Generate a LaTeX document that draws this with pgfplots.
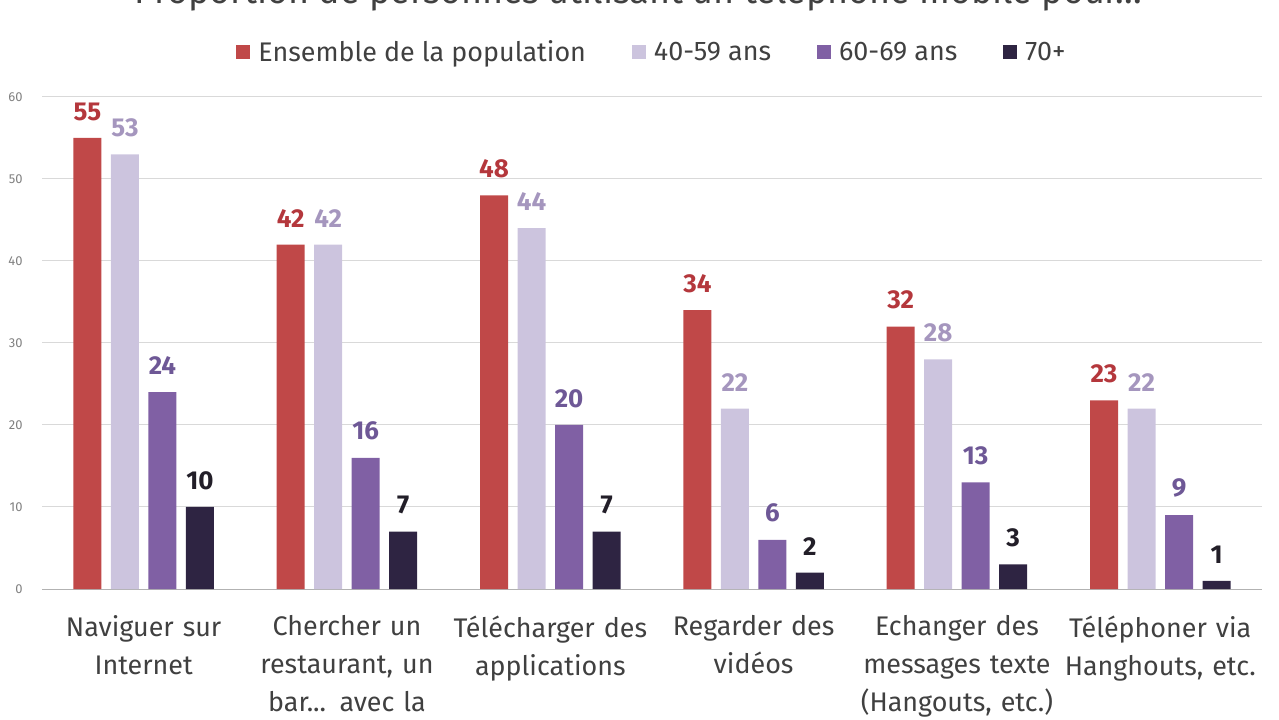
\documentclass[border=0pt]{standalone}
\usepackage{pgfplots}
\pgfplotsset{compat=1.18}
\usepackage{fontspec}
\setmainfont{Fira Sans}
\newcommand\tdots{...}
\definecolor{cA}{RGB}{192,72,72}
\definecolor{cAt}{RGB}{180,55,60}
\definecolor{cB}{RGB}{204,196,222}
\definecolor{cBt}{RGB}{165,150,190}
\definecolor{cC}{RGB}{128,96,164}
\definecolor{cCt}{RGB}{110,88,150}
\definecolor{cD}{RGB}{46,36,66}
\definecolor{cDt}{RGB}{34,30,40}
\definecolor{txt}{RGB}{64,64,64}
\begin{document}
\begin{tikzpicture}
\node[anchor=base, font=\fontsize{36}{36}\selectfont, text=txt] at (638bp,716bp) {Proportion de personnes utilisant un téléphone mobile pour\tdots};
\begin{axis}[
  at={(42bp,131bp)}, anchor=south west,
  scale only axis, width=1220bp, height=492bp,
  xmin=-0.5, xmax=5.5, ymin=0, ymax=60,
  ybar=9.5bp, bar width=28bp,
  xtick={0,1,2,3,4,5},
  xticklabels={{Naviguer sur\\Internet},{Chercher un\\restaurant, un\\bar\tdots{} avec la},{Télécharger des\\applications},{Regarder des\\vidéos},{Echanger des\\messages texte\\(Hangouts, etc.)},{Téléphoner via\\Hanghouts, etc.}},
  xticklabel style={text width=240bp, align=center, font=\fontsize{27}{38}\selectfont, text=txt, yshift=-19bp},
  ytick={0,10,20,30,40,50,60},
  yticklabel style={font=\fontsize{13}{13}\selectfont, text=gray, xshift=-16bp},
  /pgf/number format/assume math mode=true,
  ymajorgrids, grid style={draw=black!15, line width=1bp},
  axis line style={draw=none},
  tick style={draw=none},
  nodes near coords,
  nodes near coords style={font=\bfseries\fontsize{26}{26}\selectfont, yshift=14bp},
  legend style={at={(0.5,1.0915)}, anchor=center, draw=none, legend columns=4,
    font=\fontsize{27}{27}\selectfont, text=txt,
    /tikz/every odd column/.append style={column sep=6bp},
    /tikz/every even column/.append style={column sep=44bp}},
  legend image code/.code={\fill[#1] (0bp,-7bp) rectangle (14bp,7bp);},
]
\draw[black!30, line width=1bp] (rel axis cs:0,0) -- (rel axis cs:1,0);
\addplot[fill=cA, draw=none, every node near coord/.append style={text=cAt}] coordinates {(0,55) (1,42) (2,48) (3,34) (4,32) (5,23)};
\addplot[fill=cB, draw=none, every node near coord/.append style={text=cBt}] coordinates {(0,53) (1,42) (2,44) (3,22) (4,28) (5,22)};
\addplot[fill=cC, draw=none, every node near coord/.append style={text=cCt}] coordinates {(0,24) (1,16) (2,20) (3,6) (4,13) (5,9)};
\addplot[fill=cD, draw=none, every node near coord/.append style={text=cDt}] coordinates {(0,10) (1,7) (2,7) (3,2) (4,3) (5,1)};
\legend{Ensemble de la population, 40-59 ans, 60-69 ans, 70+}
\end{axis}
\pgfresetboundingbox
\path[use as bounding box] (0,0) rectangle (1279bp,720bp);
\end{tikzpicture}
\end{document}
